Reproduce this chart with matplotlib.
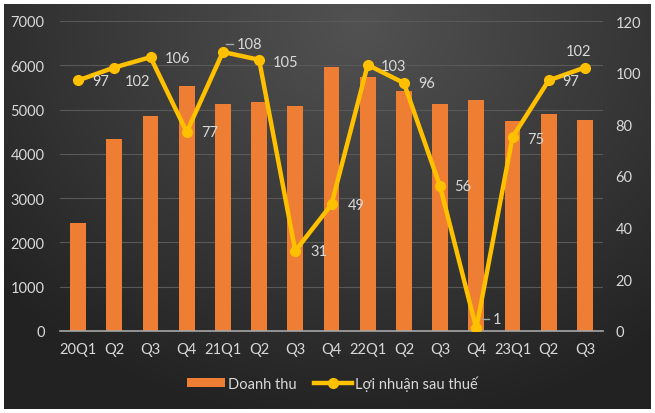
import numpy as np
import matplotlib
matplotlib.use("Agg")
import matplotlib.pyplot as plt
from matplotlib.lines import Line2D
from matplotlib.patches import Patch

quarters = ["20Q1", "Q2", "Q3", "Q4", "21Q1", "Q2", "Q3", "Q4",
            "22Q1", "Q2", "Q3", "Q4", "23Q1", "Q2", "Q3"]
doanh_thu = [2450, 4330, 4860, 5530, 5130, 5170, 5090, 5960,
             5740, 5420, 5130, 5220, 4750, 4910, 4770]
loi_nhuan = [97, 102, 106, 77, 108, 105, 31, 49, 103, 96, 56, 1, 75, 97, 102]
# label offsets in pixels (dx, dy) relative to the point
label_off = [(23, -1), (23, -13), (27, -1), (23, 0), (27, 8), (26, -2),
             (24, 0), (25, -1), (26, -1), (23, 0), (23, 0), (21, 9),
             (23, -2), (22, -1), (-6, 17)]
leader = [4, 11]

plt.rcParams['font.family'] = ['Lato', 'DejaVu Sans']
txt_col = "#d9d9d9"
bar_col = "#EE7E33"
line_col = "#FFC000"
fs = 10.5

fig = plt.figure(figsize=(6.55, 4.14), dpi=100, facecolor="white")

# dark radial gradient background
bg = fig.add_axes([4 / 655, 4 / 414, 646 / 655, 405 / 414])
yy, xx = np.mgrid[0:1:300j, 0:1:400j]
r = np.sqrt(((xx - 0.55) / 0.75) ** 2 + ((yy - 0.05) / 1.0) ** 2)
r = np.clip(r, 0, 1)
c0 = np.array([0x52, 0x52, 0x52]) / 255
c1 = np.array([0x22, 0x22, 0x22]) / 255
img = c0[None, None, :] + (c1 - c0)[None, None, :] * r[..., None]
bg.imshow(img, aspect="auto", extent=[0, 1, 0, 1], origin="upper")
bg.axis("off")

ax = fig.add_axes([60 / 655, 1 - 332 / 414, 543 / 655, 310 / 414])
ax.patch.set_alpha(0)
x = np.arange(len(quarters))
ax.bar(x, doanh_thu, width=0.44, color=bar_col, zorder=2)
ax.set_ylim(0, 7000)
ax.set_xlim(-0.5, len(quarters) - 0.5)
ax.set_yticks(range(0, 7001, 1000))
ax.grid(axis="y", color="#595959", linewidth=0.8, zorder=0)
for s in ["top", "right", "left"]:
    ax.spines[s].set_visible(False)
ax.spines["bottom"].set_color("#a6a6a6")
ax.spines["bottom"].set_linewidth(1.2)
ax.set_xticks(x)
ax.set_xticklabels(quarters)
ax.tick_params(axis="both", colors=txt_col, labelsize=fs, length=0)
ax.tick_params(axis="y", pad=11)
ax.tick_params(axis="x", pad=8)

ax2 = ax.twinx()
ax2.plot(x, loi_nhuan, color=line_col, linewidth=3.2, marker="o",
         markersize=7, zorder=3)
ax2.set_ylim(0, 120)
ax2.set_yticks(range(0, 121, 20))
for s in ["top", "right", "left", "bottom"]:
    ax2.spines[s].set_visible(False)
ax2.tick_params(axis="y", colors=txt_col, labelsize=fs, length=0, pad=9)

labels = []
for i, v in enumerate(loi_nhuan):
    dx, dy = label_off[i]
    t = ax2.annotate(str(v), (i, v), xytext=(dx, dy), textcoords="offset pixels",
                     ha="center", va="center", color=txt_col, fontsize=fs)
    labels.append(t)

fig.canvas.draw()
rend = fig.canvas.get_renderer()
for i in leader:
    bb = labels[i].get_window_extent(rend)
    yc = (bb.y0 + bb.y1) / 2
    fig.add_artist(Line2D([bb.x0 - 11, bb.x0 - 4], [yc, yc], transform=None,
                          color="#a6a6a6", linewidth=1))

handles = [Patch(facecolor=bar_col, label="Doanh thu"),
           Line2D([], [], color=line_col, linewidth=3.2, marker="o",
                  markersize=7, label="Lợi nhuận sau thuế")]
fig.legend(handles=handles, loc="center", bbox_to_anchor=(0.507, 1 - 384 / 414),
           ncol=2, frameon=False, fontsize=fs, labelcolor=txt_col,
           handlelength=2.6, handleheight=0.5, columnspacing=1.2,
           handletextpad=0.2)

fig.savefig("out.png", dpi=100, facecolor="white")
